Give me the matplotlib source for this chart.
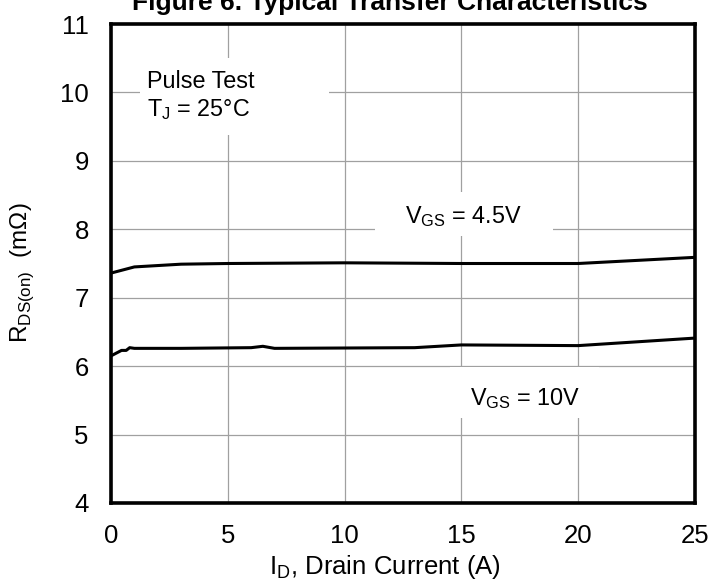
import matplotlib
matplotlib.use("Agg")
import matplotlib.pyplot as plt
from matplotlib.patches import Rectangle

plt.rcParams['font.family'] = ['Liberation Sans', 'DejaVu Sans']
plt.rcParams['mathtext.fontset'] = 'custom'
plt.rcParams['mathtext.rm'] = 'Liberation Sans'

# Drain current (A) and on-resistance (mOhm) for each gate voltage
id_45 = [0, 1.0, 3, 5, 10, 15, 20, 25]
rds_45 = [7.36, 7.45, 7.49, 7.50, 7.51, 7.50, 7.50, 7.59]

id_10 = [0, 0.45, 0.65, 0.8, 1.0, 3, 6.0, 6.5, 7.0, 13, 15, 20, 25]
rds_10 = [6.15, 6.23, 6.23, 6.27, 6.26, 6.26, 6.27, 6.29, 6.26, 6.27, 6.31, 6.30, 6.41]

x_ticks = [0, 5, 10, 15, 20, 25]
y_ticks = [4, 5, 6, 7, 8, 9, 10, 11]

fig = plt.figure(figsize=(7.12, 5.82), dpi=100)
ax = fig.add_axes([111 / 712, 1 - 503 / 582, 584 / 712, 479 / 582])

ax.set_xlim(0, 25)
ax.set_ylim(4, 11)
ax.set_xticks(x_ticks)
ax.set_yticks(y_ticks)
ax.grid(True, color='#a0a0a0', linewidth=0.9, zorder=0)
ax.set_axisbelow(True)
ax.tick_params(length=0, labelsize=18.5, pad=16)
ax.tick_params(axis='x', pad=15)

for sp in ax.spines.values():
    sp.set_linewidth(2.6)
    sp.set_color('black')
    sp.set_zorder(5)

# white panels behind the annotations
for (x0, y0, w, h) in [(1.24, 9.38, 8.09, 1.12),
                       (11.3, 7.90, 7.6, 0.64),
                       (14.5, 5.24, 6.4, 0.75)]:
    ax.add_patch(Rectangle((x0, y0), w, h, facecolor='white',
                           edgecolor='none', zorder=1))

ax.plot(id_45, rds_45, color='black', linewidth=2.2, zorder=3)
ax.plot(id_10, rds_10, color='black', linewidth=2.2, zorder=3)

fs = 16.8
ax.text(1.54, 10.06, 'Pulse Test', fontsize=fs, zorder=4)
ax.text(1.54, 9.655, r'T$_\mathregular{J}$ = 25°C', fontsize=fs, zorder=4)
ax.text(12.59, 8.09, r'V$_\mathregular{GS}$ = 4.5V', fontsize=fs, zorder=4)
ax.text(15.37, 5.43, r'V$_\mathregular{GS}$ = 10V', fontsize=fs, zorder=4)

ax.set_xlabel(r'I$_\mathregular{D}$, Drain Current (A)', fontsize=18.5)
ax.xaxis.set_label_coords(274 / 584, -50 / 479)
fig.text(22 / 712, 1 - 273 / 582, r'R$_\mathregular{DS(on)}$  (m$\Omega$)',
         fontsize=17.5, rotation=90, ha='center', va='center')

fig.text(390 / 712, 1 - 10 / 582, 'Figure 6. Typical Transfer Characteristics',
         fontsize=19, fontweight='bold', ha='center', va='baseline')

fig.savefig('out.png', dpi=100)
